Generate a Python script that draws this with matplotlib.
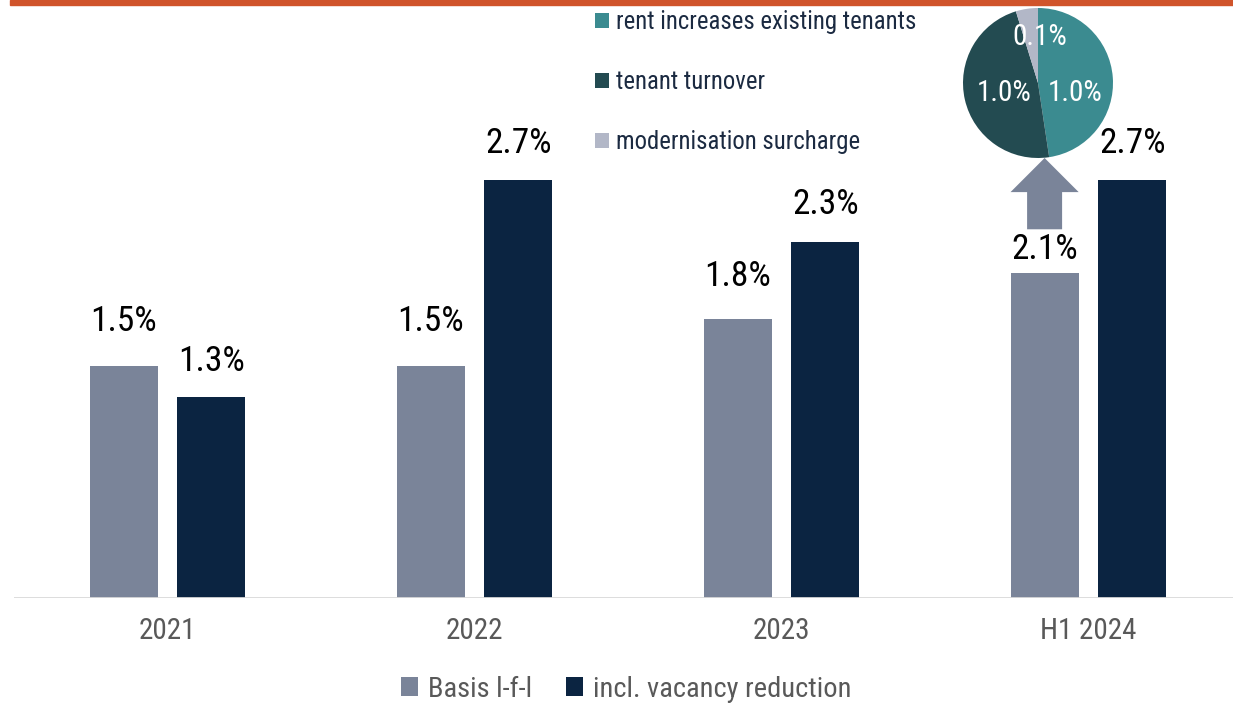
import matplotlib
matplotlib.use("Agg")
import matplotlib.pyplot as plt
from matplotlib import font_manager
from matplotlib.patches import FancyArrow, Rectangle
import numpy as np

# --- data ---
categories = ["2021", "2022", "2023", "H1 2024"]
basis_lfl = [1.5, 1.5, 1.8, 2.1]
incl_vacancy = [1.3, 2.7, 2.3, 2.7]
series_names = ["Basis l-f-l", "incl. vacancy reduction"]

pie_labels = ["rent increases existing tenants", "tenant turnover", "modernisation surcharge"]
pie_values = [1.0, 1.0, 0.1]

# --- style ---
GRAY = "#7a8499"
NAVY = "#0b2441"
PIE_COLORS = ["#3b8b90", "#234b51", "#b2b7c7"]
ORANGE = "#d0542b"
TEXT_GRAY = "#595959"


def pick_narrow_font():
    """Look for an installed narrow/condensed sans, falling back to Liberation Sans."""
    entries = font_manager.fontManager.ttflist
    prefs = ["Liberation Sans Narrow", "Roboto Condensed", "Open Sans Condensed",
             "Noto Sans", "Roboto", "Open Sans", "DejaVu Sans", "Liberation Sans"]
    narrow = ("condensed", "semi-condensed", "extra-condensed", "ultra-condensed", 600, 500, 700)
    for p in prefs:
        for f in entries:
            if f.name != p or f.weight not in ("normal", 400, "regular"):
                continue
            if "Narrow" in p or "Condensed" in p:
                return f.name, "normal", True
            if f.stretch in narrow or "ondensed" in f.fname:
                return f.name, f.stretch, True
    return "Liberation Sans", "normal", False


FONT, STRETCH, IS_NARROW = pick_narrow_font()
plt.rcParams["font.family"] = [FONT, "DejaVu Sans"]
plt.rcParams["font.stretch"] = STRETCH
k = 1.0 if IS_NARROW else 0.88  # shrink text when only a regular-width face exists

fig = plt.figure(figsize=(12.33, 7.06), dpi=100)

# orange title band (title text itself is cropped out of the image)
fig.patches.append(Rectangle((10 / 1233, 1 - 5 / 706), 1, 5 / 706,
                             transform=fig.transFigure, color=ORANGE, zorder=0))

# --- bar panel ---
ax = fig.add_axes([14 / 1233, 108 / 706, 1228 / 1233, 598 / 706])
x = np.arange(len(categories))
w = 0.222
off = 0.143
b1 = ax.bar(x - off, basis_lfl, w, color=GRAY, label=series_names[0])
b2 = ax.bar(x + off, incl_vacancy, w, color=NAVY, label=series_names[1])

ax.set_xlim(-0.5, 3.5)
ax.set_ylim(0, 3.86)
for s in ax.spines.values():
    s.set_visible(False)
ax.axhline(0, color="#d9d9d9", linewidth=2, zorder=3)
ax.set_yticks([])
ax.set_xticks(x)
ax.set_xticklabels(categories, fontsize=21 * k, color=TEXT_GRAY)
ax.tick_params(axis="x", length=0, pad=14)

# value labels (pixel gap above bar; the H1 2024 basis label sits lower under the arrow)
gaps_basis = [33, 33, 32, 12]
gaps_incl = [24, 25, 26, 25]
for rects, vals, gaps in ((b1, basis_lfl, gaps_basis), (b2, incl_vacancy, gaps_incl)):
    for r, v, g in zip(rects, vals, gaps):
        ax.annotate(f"{v:.1f}%", (r.get_x() + r.get_width() / 2, v),
                    xytext=(0, g * 0.72 - 4), textcoords="offset points",
                    ha="center", va="bottom", fontsize=25.5 * k, color="black")

# arrow from the H1 2024 basis bar up to the pie
ax.add_patch(FancyArrow(x[-1] - off, basis_lfl[-1] + 0.28, 0, 0.46,
                        width=0.114, head_width=w, head_length=0.22,
                        length_includes_head=True, color=GRAY, linewidth=0))

fig.legend(handles=[b1, b2], loc="center", bbox_to_anchor=(0.508, 0.024),
           ncol=2, frameon=False, fontsize=20.5 * k, handlelength=0.6, handleheight=0.6,
           handletextpad=0.35, columnspacing=1.2, labelcolor=TEXT_GRAY)

# --- pie panel ---
pax = fig.add_axes([963 / 1233, 548 / 706, 150 / 1233, 150 / 706])
wedges, _ = pax.pie(pie_values, colors=PIE_COLORS, startangle=90, counterclock=False,
                    wedgeprops=dict(linewidth=0))
pax.set_xlim(-1, 1)
pax.set_ylim(-1, 1)
pie_text_xy = [(0.49, -0.13), (-0.45, -0.13), (0.03, 0.61)]
for (tx, ty), v in zip(pie_text_xy, pie_values):
    pax.text(tx, ty, f"{v:.1f}%", ha="center", va="center", color="white", fontsize=21 * k)

fig.legend(handles=wedges, labels=pie_labels, loc="upper left",
           bbox_to_anchor=(583 / 1233, 1 + 2 / 706), frameon=False, fontsize=17.8 * k,
           handlelength=0.55, handleheight=0.55, handletextpad=0.3,
           labelspacing=1.45, borderpad=0, labelcolor="#1b2a41")

fig.savefig("out.png", dpi=100)
